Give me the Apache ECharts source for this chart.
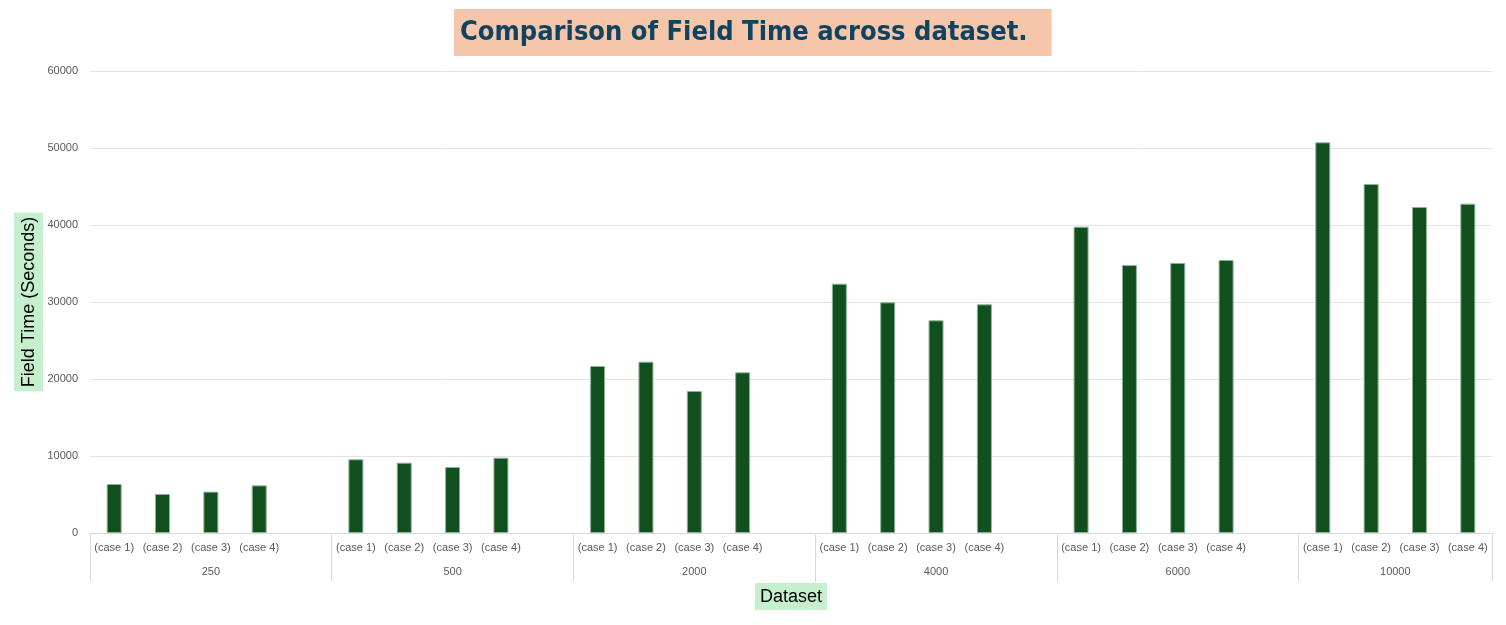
<!DOCTYPE html>
<html lang="en">
<head>
    <meta charset="UTF-8">
    <title>Field Time</title>
    <style>
        body { margin: 0; padding: 0; background-color: #fff; }
        #chart { width: 1506px; height: 625px; }
    </style>
    <script src="https://cdn.jsdelivr.net/npm/echarts@6/dist/echarts.min.js"></script>
</head>
<body>
<div id="chart"></div>
<script>
    var chart = echarts.init(document.getElementById('chart'));

    // datasets (outer level of the x axis)
    var datasets = ['250', '500', '2000', '4000', '6000', '10000'];
    var cases = ['(case 1)', '(case 2)', '(case 3)', '(case 4)'];

    // field time in seconds, one row per dataset, case 1..4
    var time250 = [6360, 5070, 5370, 6190];
    var time500 = [9570, 9130, 8570, 9780];
    var time2000 = [21690, 22250, 18440, 20870];
    var time4000 = [32380, 29960, 27620, 29700];
    var time6000 = [39780, 34800, 35070, 35460];
    var time10000 = [50740, 45320, 42340, 42770];

    var yTicks = [0, 10000, 20000, 30000, 40000, 50000, 60000];

    // Excel leaves one blank slot after every group except the last
    var rows = [time250, time500, time2000, time4000, time6000, time10000];
    var caseLabels = [];
    var values = [];
    var groupStart = [];
    rows.forEach(function (row, g) {
        groupStart.push(caseLabels.length);
        row.forEach(function (v, i) {
            caseLabels.push(cases[i]);
            values.push(v);
        });
        if (g < rows.length - 1) {
            caseLabels.push('');
            values.push('-');
        }
    });
    var slotCount = caseLabels.length;
    var groupEdges = groupStart.concat([slotCount]);
    var groupCenters = [];
    for (var g = 0; g < datasets.length; g++) {
        groupCenters.push((groupEdges[g] + groupEdges[g + 1]) / 2);
    }

    var labelFont = 'Liberation Sans, Arial, sans-serif';

    var option = {
        animation: false,
        title: {
            text: 'Comparison of Field Time across dataset.',
            left: 454,
            top: 9,
            backgroundColor: '#F5C6AA',
            padding: [10, 24, 10, 6],
            textStyle: {
                color: '#0F4360',
                fontSize: 27,
                fontWeight: 'bold',
                fontFamily: 'Liberation Sans Narrow, DejaVu Sans Condensed, sans-serif'
            }
        },
        grid: {
            left: 90,
            right: 14,
            top: 71,
            bottom: 92,
            outerBoundsMode: 'none'
        },
        xAxis: [{
            type: 'category',
            data: caseLabels,
            name: 'Dataset',
            nameLocation: 'middle',
            nameGap: 50,
            nameMoveOverlap: false,
            nameTextStyle: {
                color: '#000',
                fontSize: 18,
                fontFamily: labelFont,
                backgroundColor: '#C6EFCE',
                padding: [5, 5, 4, 5]
            },
            axisLine: { lineStyle: { color: '#D9D9D9' } },
            axisTick: { show: false },
            axisLabel: {
                interval: 0,
                margin: 9,
                color: '#595959',
                fontSize: 11,
                fontFamily: labelFont
            }
        }, {
            type: 'value',
            position: 'bottom',
            min: 0,
            max: slotCount,
            splitLine: { show: false },
            axisLine: { show: false },
            axisTick: {
                show: true,
                customValues: groupEdges,
                length: 49,
                lineStyle: { color: '#D9D9D9' }
            },
            axisLabel: {
                customValues: groupCenters,
                margin: 33,
                color: '#595959',
                fontSize: 11,
                fontFamily: labelFont,
                formatter: function (v) {
                    var i = groupCenters.indexOf(v);
                    return i >= 0 ? datasets[i] : '';
                }
            }
        }],
        yAxis: {
            type: 'value',
            min: yTicks[0],
            max: yTicks[yTicks.length - 1],
            interval: yTicks[1] - yTicks[0],
            name: 'Field Time (Seconds)',
            nameLocation: 'middle',
            nameRotate: 90,
            nameGap: 47,
            nameMoveOverlap: false,
            nameTextStyle: {
                color: '#000',
                fontSize: 18,
                fontFamily: labelFont,
                backgroundColor: '#C6EFCE',
                padding: [6, 4, 5, 4]
            },
            axisLine: { show: false },
            axisTick: { show: false },
            axisLabel: {
                margin: 12,
                color: '#595959',
                fontSize: 11,
                fontFamily: labelFont,
                formatter: function (v) { return String(v); }
            },
            splitLine: { lineStyle: { color: '#E3E3E3', width: 1 } }
        },
        series: [{
            type: 'bar',
            data: values,
            barWidth: 15,
            itemStyle: {
                color: '#124F1E',
                borderColor: '#8DB597',
                borderWidth: 1
            }
        }]
    };
    chart.setOption(option);
    window.onresize = chart.resize;
</script>
</body>
</html>
